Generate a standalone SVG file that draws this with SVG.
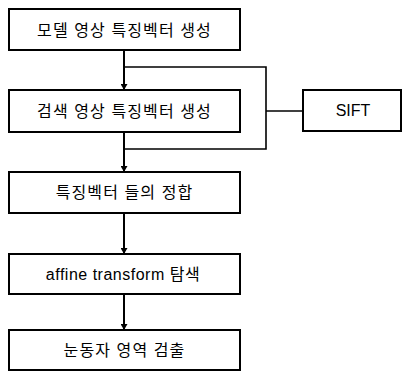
<svg xmlns="http://www.w3.org/2000/svg" width="403" height="372" viewBox="0 0 403 372">
<style>
.box{fill:#fff;stroke:#000;stroke-width:2}
.t{font-family:"Liberation Sans","Noto Sans CJK KR",sans-serif;font-size:16px;fill:#000;text-anchor:middle;letter-spacing:1.1px}
.ln{fill:none;stroke:#000;stroke-width:2}
.br{fill:none;stroke:#000;stroke-width:1.6}
</style>
<defs>
<marker id="ah" markerWidth="6" markerHeight="7" refX="6" refY="3.5" orient="auto" markerUnits="userSpaceOnUse">
<path d="M0,0 L6,3.5 L0,7 Z" fill="#000"/>
</marker>
</defs>
<rect width="403" height="372" fill="#fff"/>
<g id="connectors">
<line class="ln" x1="124" y1="50" x2="124" y2="90" marker-end="url(#ah)"/>
<polyline class="br" points="124,67 266,67 266,149 124,149"/>
<line class="br" x1="266" y1="111" x2="303" y2="111"/>
<line class="ln" x1="124" y1="132" x2="124" y2="172" marker-end="url(#ah)"/>
<line class="ln" x1="124" y1="213" x2="124" y2="254" marker-end="url(#ah)"/>
<line class="ln" x1="124" y1="294" x2="124" y2="330" marker-end="url(#ah)"/>
</g>
<g id="n1"><rect class="box" x="9" y="9" width="231" height="41"/><text class="t" x="124.5" y="35.5">모델 영상 특징벡터 생성</text></g>
<g id="n2"><rect class="box" x="9" y="90" width="231" height="42"/><text class="t" x="124.5" y="116.5">검색 영상 특징벡터 생성</text></g>
<g id="sift"><rect class="box" x="303" y="90" width="98" height="41"/><text class="t" x="353" y="116" font-size="15" style="letter-spacing:0">SIFT</text></g>
<g id="n3"><rect class="box" x="9" y="172" width="231" height="41"/><text class="t" x="124.5" y="198">특징벡터 들의 정합</text></g>
<g id="n4"><rect class="box" x="9" y="254" width="231" height="40"/><text class="t" x="123" y="279.5" style="letter-spacing:0.5px">affine transform 탐색</text></g>
<g id="n5"><rect class="box" x="9" y="330" width="231" height="40"/><text class="t" x="124.5" y="355.5">눈동자 영역 검출</text></g>
</svg>
